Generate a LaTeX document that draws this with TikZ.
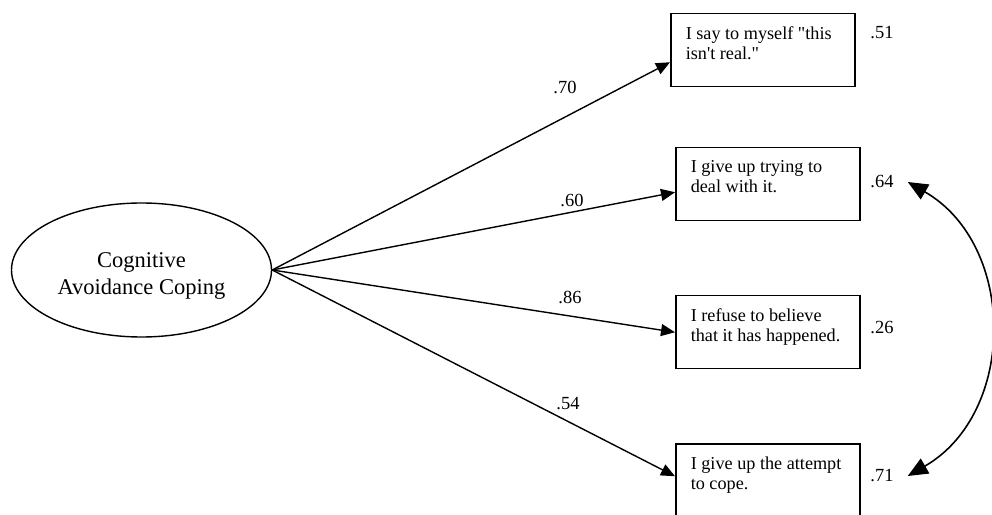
\documentclass[tikz,border=0pt]{standalone}
\usepackage{fontspec}
\newfontfamily\diagfont{Liberation Serif}
\usetikzlibrary{arrows.meta,shapes.geometric}
\newcommand{\itemtext}[1]{\parbox[t][47pt][t]{154pt}{\raggedright #1}}
\begin{document}
\begin{tikzpicture}[x=1pt,y=1pt,
  font=\diagfont,
  latent/.style={draw,ellipse,line width=1.4pt,minimum width=260pt,minimum height=134pt,inner sep=0pt},
  latentlabel/.style={font=\diagfont\fontsize{22.5}{27}\selectfont,align=center,yshift=-6pt},
  itembox/.style={draw,rectangle,line width=1.5pt,inner xsep=15pt,inner ysep=13pt,anchor=north west,
    font=\diagfont\fontsize{18.2}{20}\selectfont},
  coef/.style={font=\diagfont\fontsize{18.5}{20}\selectfont,inner sep=2pt},
  resid/.style={font=\diagfont\fontsize{18.5}{20}\selectfont,inner xsep=14pt,inner ysep=2pt},
  loading/.style={line width=1.4pt,-{Triangle[length=14pt,width=12pt]}},
  covar/.style={line width=1.6pt,{Triangle[length=20pt,width=17pt]}-{Triangle[length=20pt,width=17pt]}}]
\useasboundingbox (0,0) rectangle (992,514);
\clip (0,0) rectangle (992,514);

% latent factor
\node[latent,label={[latentlabel]center:Cognitive\\Avoidance Coping}] (lv) at (141.5,244) {};

% indicator items
\node[itembox] (b1) at (670,501) {\itemtext{I say to myself "this\\isn't real."}};
\node[itembox] (b2) at (675,367) {\itemtext{I give up trying to\\deal with it.}};
\node[itembox] (b3) at (675,219) {\itemtext{I refuse to believe\\that it has happened.}};
\node[itembox] (b4) at (675,71) {\itemtext{I give up the attempt\\to cope.}};

% factor loadings
\draw[loading] (lv.east) -- ([yshift=-12pt]b1.west);
\draw[loading] (lv.east) -- ([yshift=-8pt]b2.west);
\draw[loading] (lv.east) -- (b3.west);
\draw[loading] (lv.east) -- ([yshift=4pt]b4.west);

\node[coef] (c1) at (565,427) {.70};
\node[coef] (c2) at (572,314) {.60};
\node[coef] (c3) at (570,217) {.86};
\node[coef] (c4) at (568,110) {.54};

% residual variances
\node[resid] (r1) at (882,481) {.51};
\node[resid] (r2) at (882,332) {.64};
\node[resid] (r3) at (882,186) {.26};
\node[resid] (r4) at (882,38) {.71};

% correlated errors
\draw[covar] (r2.east) to[out=-30,in=30,looseness=1.1] (r4.east);
\end{tikzpicture}
\end{document}
